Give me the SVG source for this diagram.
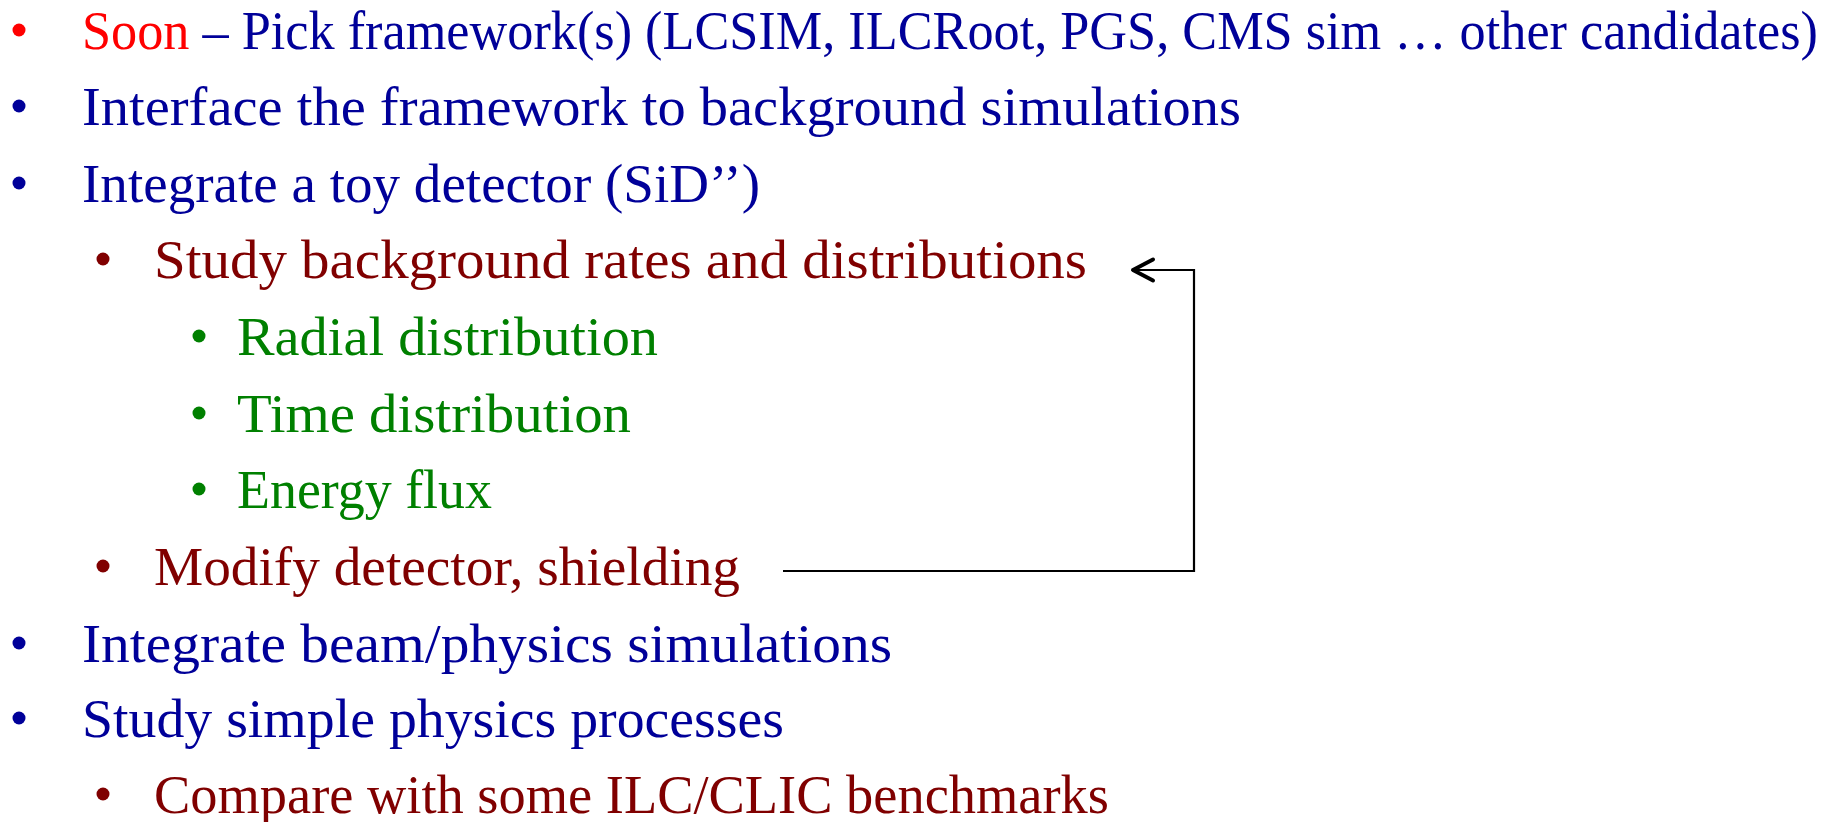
<svg xmlns="http://www.w3.org/2000/svg" width="1833" height="822" viewBox="0 0 1833 822">
<style>
text{font-family:"Liberation Serif","Times New Roman",serif;font-size:54px}
.b{fill:#000099}.r{fill:#800000}.g{fill:#008000}.red{fill:#FF0000}
.conn{fill:none;stroke:#000;stroke-width:2.2}
</style>
<defs>
<marker id="chev" markerUnits="userSpaceOnUse" orient="auto" refX="0" refY="0" markerWidth="30" markerHeight="30" viewBox="-25 -15 30 30" overflow="visible">
<path d="M-20,-10.5 L0,0 L-20,10.5" fill="none" stroke="#000" stroke-width="4" stroke-linecap="round" stroke-linejoin="round"/>
</marker>
</defs>
<rect width="1833" height="822" fill="#fff"/>
<g id="item1"><circle class="red" cx="19" cy="30" r="6.5"/><text x="82" y="49" textLength="1736" lengthAdjust="spacingAndGlyphs"><tspan class="red">Soon</tspan><tspan class="b"> – Pick framework(s) (LCSIM, ILCRoot, PGS, CMS sim … other candidates)</tspan></text></g>
<g id="item2"><circle class="b" cx="19" cy="106" r="6.5"/><text class="b" x="82" y="125" textLength="1159" lengthAdjust="spacingAndGlyphs">Interface the framework to background simulations</text></g>
<g id="item3"><circle class="b" cx="19" cy="183" r="6.5"/><text class="b" x="82" y="202" textLength="678" lengthAdjust="spacingAndGlyphs">Integrate a toy detector (SiD’’)</text></g>
<g id="item4"><circle class="r" cx="103" cy="259" r="6.5"/><text class="r" x="154" y="278" textLength="933" lengthAdjust="spacingAndGlyphs">Study background rates and distributions</text></g>
<g id="item5"><circle class="g" cx="199" cy="336" r="6.5"/><text class="g" x="237" y="355" textLength="421" lengthAdjust="spacingAndGlyphs">Radial distribution</text></g>
<g id="item6"><circle class="g" cx="199" cy="413" r="6.5"/><text class="g" x="237" y="432" textLength="394" lengthAdjust="spacingAndGlyphs">Time distribution</text></g>
<g id="item7"><circle class="g" cx="199" cy="489" r="6.5"/><text class="g" x="237" y="508" textLength="255" lengthAdjust="spacingAndGlyphs">Energy flux</text></g>
<g id="item8"><circle class="r" cx="103" cy="566" r="6.5"/><text class="r" x="154" y="585" textLength="586" lengthAdjust="spacingAndGlyphs">Modify detector, shielding</text></g>
<g id="item9"><circle class="b" cx="19" cy="643" r="6.5"/><text class="b" x="82" y="662" textLength="810" lengthAdjust="spacingAndGlyphs">Integrate beam/physics simulations</text></g>
<g id="item10"><circle class="b" cx="19" cy="718" r="6.5"/><text class="b" x="82" y="737" textLength="702" lengthAdjust="spacingAndGlyphs">Study simple physics processes</text></g>
<g id="item11"><circle class="r" cx="103" cy="794" r="6.5"/><text class="r" x="154" y="813" textLength="955" lengthAdjust="spacingAndGlyphs">Compare with some ILC/CLIC benchmarks</text></g>
<g id="connectors">
<path class="conn" d="M783,571 H1194 V270 H1133" marker-end="url(#chev)"/>
</g>
</svg>
